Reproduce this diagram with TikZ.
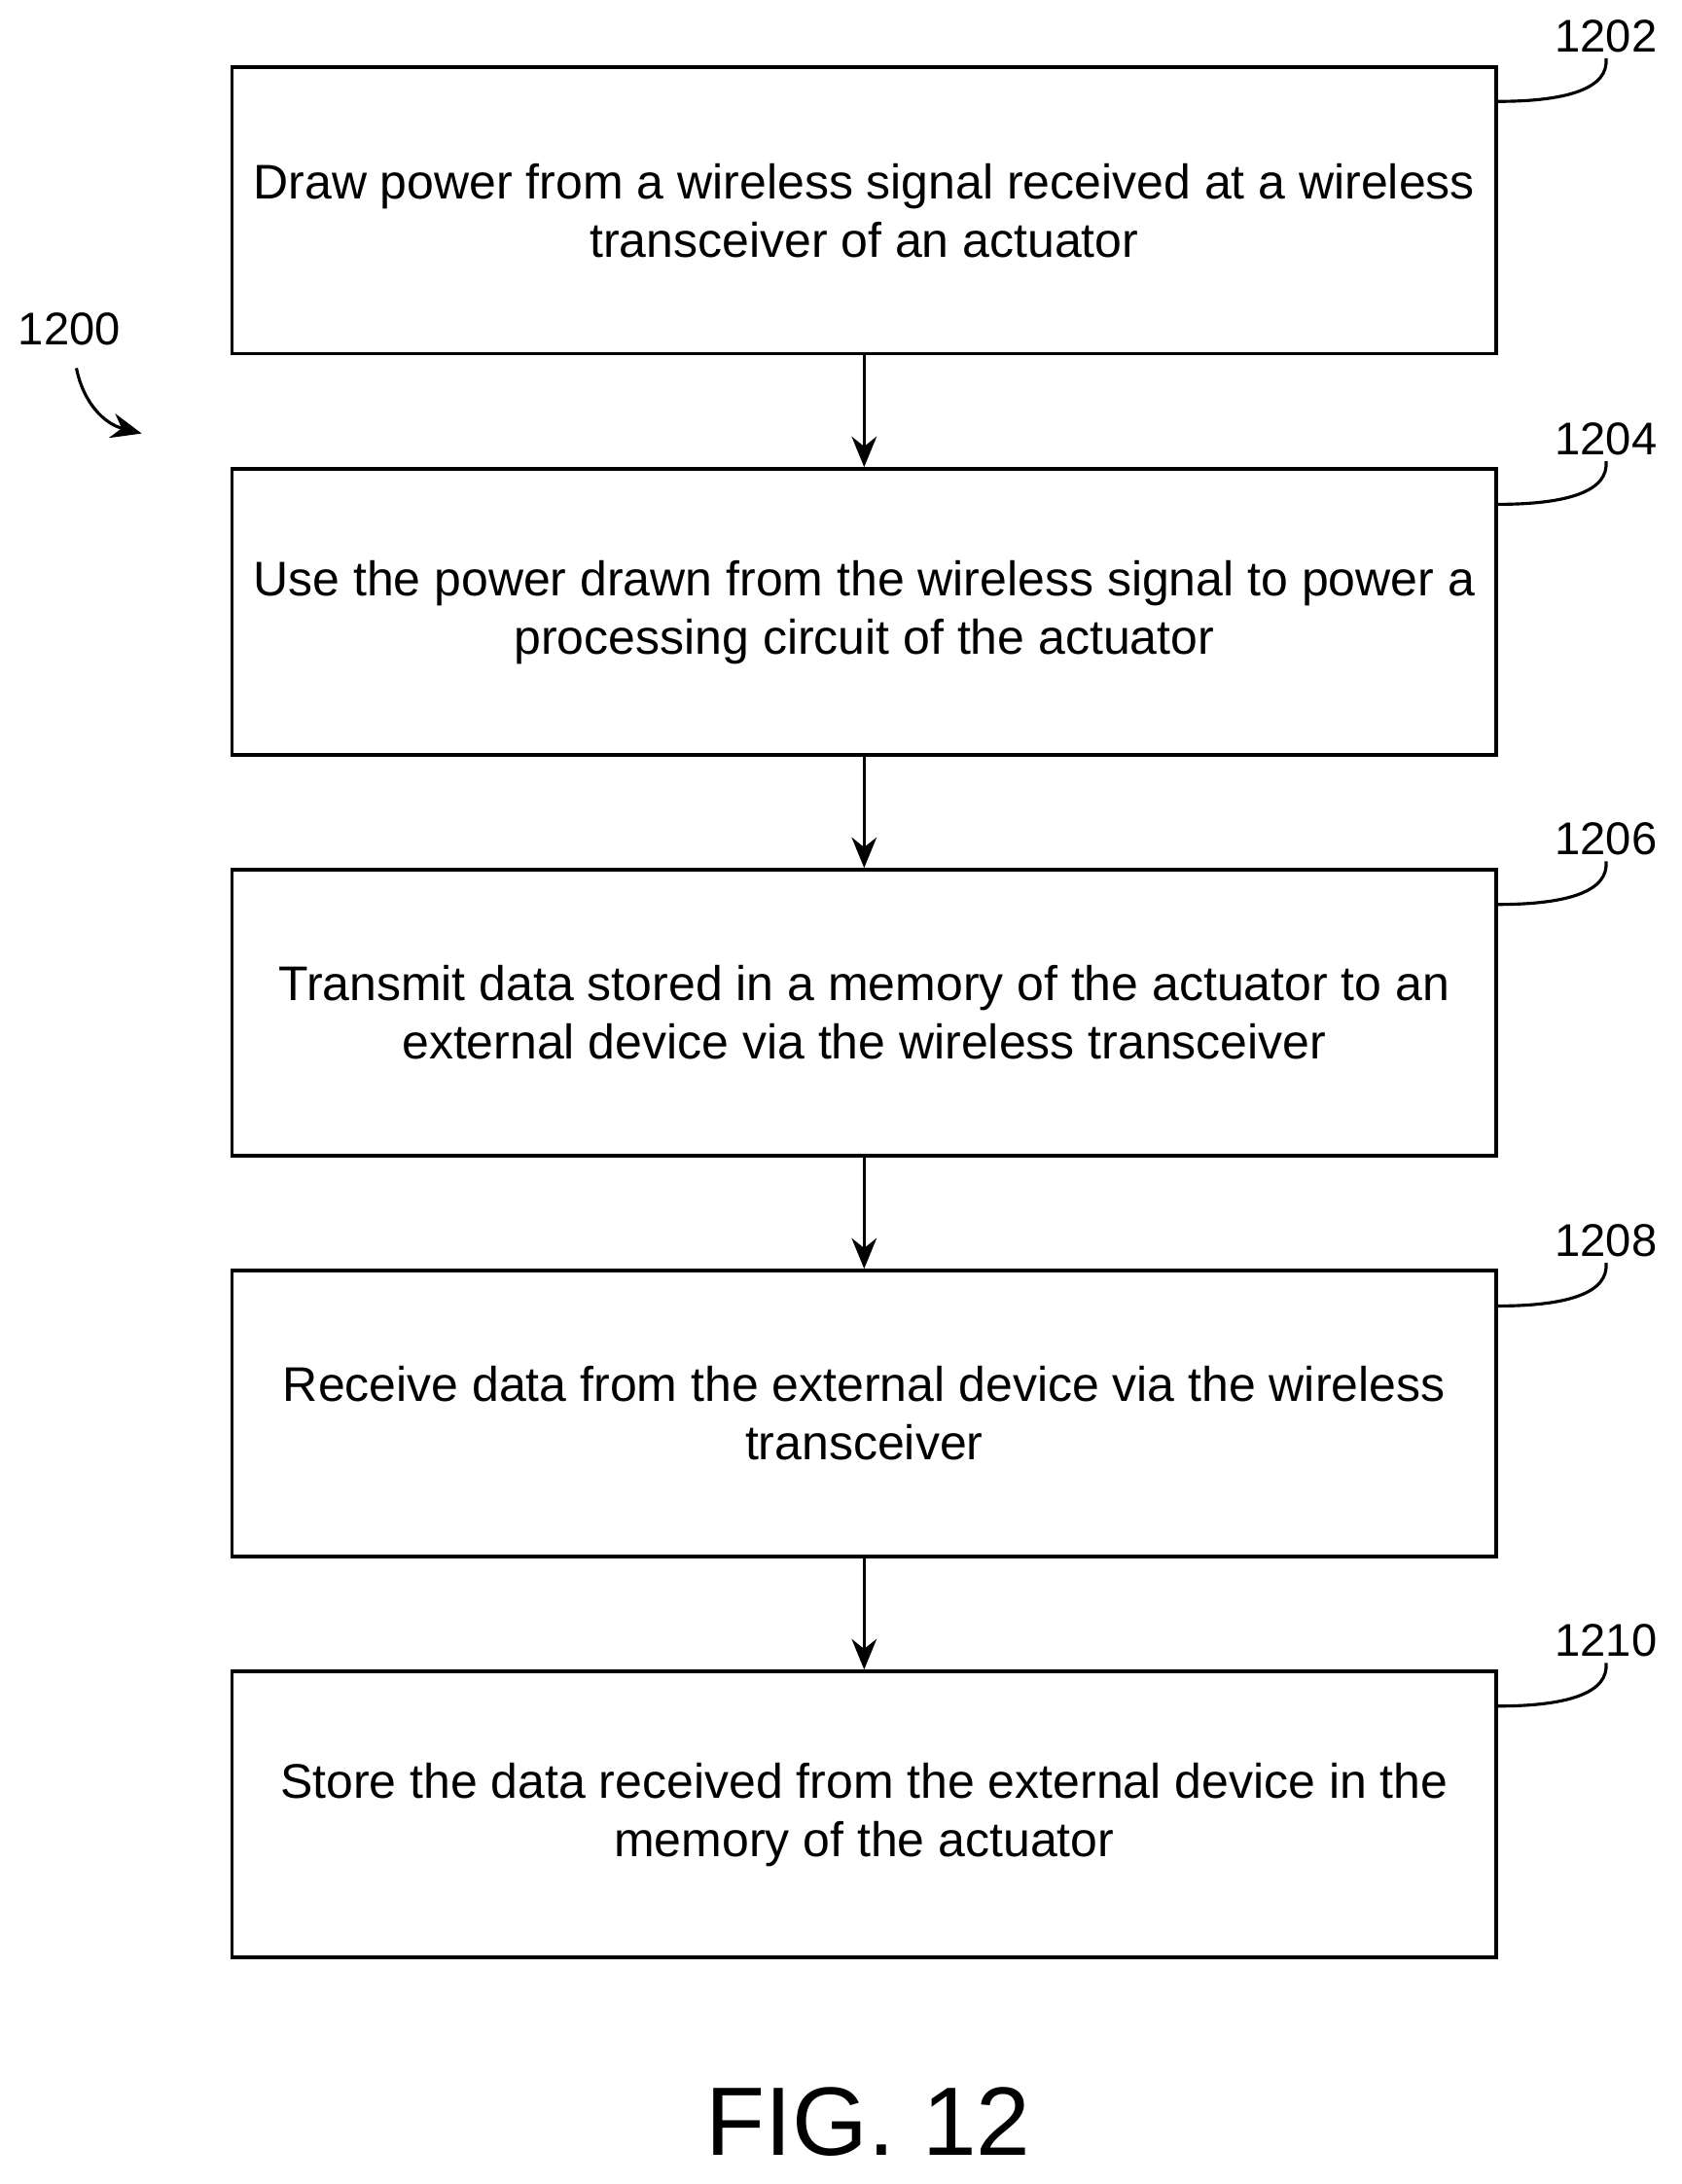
\documentclass[tikz,border=0pt]{standalone}
\usepackage{fontspec}
\setmainfont{Liberation Sans}
\usetikzlibrary{arrows.meta}
\begin{document}
\begin{tikzpicture}[x=0.5pt,y=-0.5pt,
 box/.style={draw,line width=1.3pt,minimum width=455pt,minimum height=103pt,align=center,font=\fontsize{17.5}{21}\selectfont},
 lbl/.style={font=\fontsize{16.5}{18}\selectfont},
 arr/.style={-{Stealth[length=11pt,width=9pt]},line width=1.1pt},
 lead/.style={line width=1.1pt}]
\useasboundingbox (0,0) rectangle (1210,1572);
\node[box] (b1) at (622,151.5) {Draw power from a wireless signal received at a wireless\\transceiver of an actuator};
\node[box] (b2) at (622,440.5) {Use the power drawn from the wireless signal to power a\\processing circuit of the actuator};
\node[box] (b3) at (622,729) {Transmit data stored in a memory of the actuator to an\\external device via the wireless transceiver};
\node[box] (b4) at (622,1017.5) {Receive data from the external device via the wireless\\transceiver};
\node[box] (b5) at (622,1306) {Store the data received from the external device in the\\memory of the actuator};
\draw[arr] (b1) -- (b2);
\draw[arr] (b2) -- (b3);
\draw[arr] (b3) -- (b4);
\draw[arr] (b4) -- (b5);
\foreach \n/\t/\y in {b1/1202/48,b2/1204/338,b3/1206/626,b4/1208/915,b5/1210/1203}{
 \node[lbl] (l\t) at (1156,\y-22) {\t};
 \coordinate (s\t) at (1078,\y+25);
 \draw[lead] (s\t) .. controls (1130,\y+25) and (1158,\y+15) .. (1156,\y-6);
}
\node[lbl] (l1200) at (50,237) {1200};
\coordinate (e1200) at (102,312);
\draw[arr] (55,265) .. controls (60,290) and (75,305) .. (e1200);
\node[font=\fontsize{35}{40}\selectfont] (fig) at (625,1527) {FIG. 12};
\end{tikzpicture}
\end{document}
